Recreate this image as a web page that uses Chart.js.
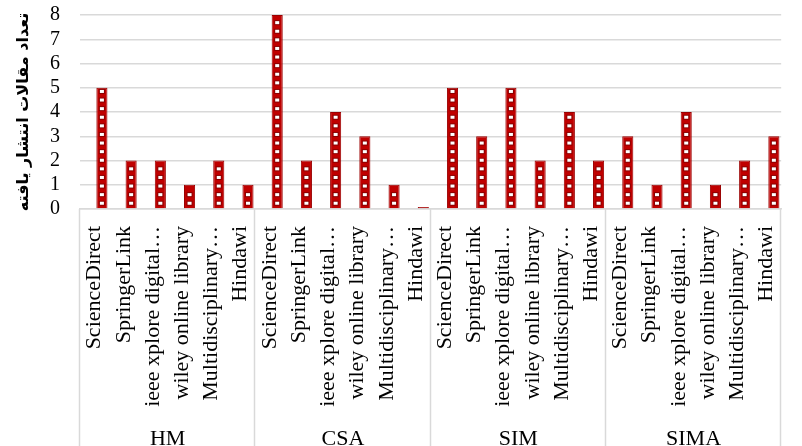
<!DOCTYPE html>
<html>
<head>
<meta charset="utf-8">
<script src="https://cdn.jsdelivr.net/npm/chart.js@4"></script>
<style>
  html, body { margin: 0; padding: 0; background: #fff; }
  #wrap { width: 802px; height: 446px; position: relative; }
</style>
</head>
<body>
<div id="wrap"><canvas id="chart"></canvas></div>
<script>
// === Data ===
const groups = ['HM', 'CSA', 'SIM', 'SIMA'];
const sources = ['ScienceDirect', 'SpringerLink', 'ieee xplore digital…', 'wiley online library', 'Multidisciplinary…', 'Hindawi'];
const hmValues = [5, 2, 2, 1, 2, 1];
const csaValues = [8, 2, 4, 3, 1, 0];
const simValues = [5, 3, 5, 2, 4, 2];
const simaValues = [3, 1, 4, 1, 2, 3];
const yTicks = [0, 1, 2, 3, 4, 5, 6, 7, 8];
const yTitle = 'تعداد مقالات انتشار یافته';

const labels = [];
groups.forEach(() => sources.forEach(s => labels.push(s)));
const values = [].concat(hmValues, csaValues, simValues, simaValues);
// empty slot so the bars sit a little right of the label, like the 3D original
const spacer = values.map(() => null);

const serif = "'Liberation Serif', 'DejaVu Serif', serif";

// white dot column on each bar
const dotsPlugin = {
    id: 'dots',
    afterDatasetsDraw(chart) {
        const ctx = chart.ctx;
        const meta = chart.getDatasetMeta(1);
        ctx.save();
        meta.data.forEach(bar => {
            const top = bar.y, bottom = bar.base;
            if (bottom - top < 6) return;
            for (let y = bottom - 5; y > top + 2; y -= 8.6) {
                ctx.fillStyle = '#8a0000';
                ctx.fillRect(bar.x - 3, y - 2.5, 6, 5);
                ctx.fillStyle = '#ffffff';
                ctx.fillRect(bar.x - 2, y - 1.5, 4, 3);
            }
        });
        ctx.restore();
    }
};

// group separators below the plot
const sepPlugin = {
    id: 'seps',
    afterDraw(chart) {
        const ctx = chart.ctx, x = chart.scales.x;
        const top = chart.chartArea.bottom;
        ctx.save();
        ctx.strokeStyle = '#d9d9d9';
        ctx.lineWidth = 1.5;
        for (let g = 0; g <= groups.length; g++) {
            const px = Math.round(x.getPixelForValue(g * sources.length - 0.5)) - 0.5;
            ctx.beginPath();
            ctx.moveTo(px, top);
            ctx.lineTo(px, chart.height);
            ctx.stroke();
        }
        ctx.restore();
    }
};

new Chart(document.getElementById('chart').getContext('2d'), {
    type: 'bar',
    data: {
        labels,
        datasets: [{
            data: spacer
        }, {
            data: values,
            backgroundColor: '#c00000',
            borderColor: '#9a0000',
            borderWidth: 1,
            minBarLength: 2
        }]
    },
    plugins: [dotsPlugin, sepPlugin],
    options: {
        responsive: true,
        maintainAspectRatio: false,
        animation: false,
        datasets: { bar: { barPercentage: 0.76, categoryPercentage: 1 } },
        layout: { padding: { top: 15, right: 2, left: 0, bottom: 0 } },
        plugins: { legend: { display: false }, tooltip: { enabled: false } },
        scales: {
            y: {
                min: 0, max: 8,
                afterBuildTicks: s => { s.ticks = yTicks.map(v => ({ value: v })); },
                afterFit: s => { s.width = 80; s.paddingTop = 0; s.paddingBottom = 0; },
                grid: { color: '#d9d9d9', lineWidth: 1.5, drawTicks: false },
                border: { display: false },
                ticks: { color: '#000', font: { family: serif, size: 20 }, padding: 20, autoSkip: false },
                title: { display: true, text: yTitle, color: '#000', font: { family: "'DejaVu Sans', sans-serif", size: 16, weight: 'bold' }, padding: { top: 14, bottom: 0 } }
            },
            x: {
                afterFit: s => { s.height = 207; },
                grid: { display: false },
                border: { color: '#d9d9d9', width: 1.5 },
                ticks: { color: '#000', font: { family: serif, size: 22 }, minRotation: 90, maxRotation: 90, padding: 9, autoSkip: false }
            },
            x2: {
                type: 'category',
                labels: groups,
                position: 'bottom',
                afterFit: s => { s.height = 30; },
                grid: { display: false },
                border: { display: false },
                ticks: { color: '#000', font: { family: serif, size: 22 }, padding: 2 }
            }
        }
    }
});
</script>
</body>
</html>
